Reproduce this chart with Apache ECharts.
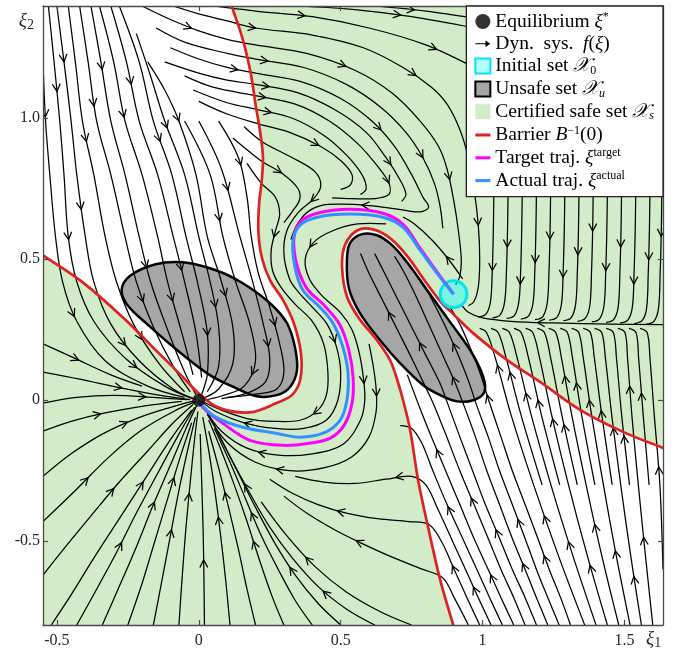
<!DOCTYPE html>
<html><head><meta charset="utf-8">
<script src="https://cdn.jsdelivr.net/npm/echarts@6.0.0/dist/echarts.min.js"></script>
<style>html,body{margin:0;padding:0;background:#fff;}#chart{width:681px;height:654px;}</style>
</head><body><div id="chart"></div>
<script>
// ---------------- data (data units) ----------------
const xTickValues = [-0.5, 0, 0.5, 1, 1.5];
const xTickLabels = ['-0.5', '0', '0.5', '1', '1.5'];
const yTickValues = [-0.5, 0, 0.5, 1];
const yTickLabels = ['-0.5', '0', '0.5', '1.0'];

const equilibrium = [0, 0];
const initialSetCenter = [0.898, 0.376];
const initialSetRadius = 0.047;

const barrierLeft = [[-0.549,0.514],[-0.409,0.418],[-0.268,0.294],[-0.162,0.188],[-0.056,0.082],[0.004,0.02],[0.074,-0.028],[0.18,-0.043],[0.272,-0.011],[0.33,0.02],[0.358,0.075],[0.36,0.167],[0.335,0.273],[0.297,0.355],[0.251,0.426],[0.222,0.507],[0.21,0.6],[0.213,0.7],[0.222,0.78],[0.226,0.865],[0.215,0.96],[0.201,1.043],[0.183,1.16],[0.155,1.28],[0.116,1.398]];
const barrierRight = [[1.638,-0.17],[1.497,-0.113],[1.345,-0.035],[1.204,0.064],[1.087,0.142],[0.967,0.238],[0.893,0.309],[0.851,0.351],[0.805,0.412],[0.734,0.512],[0.674,0.575],[0.614,0.606],[0.558,0.602],[0.515,0.55],[0.505,0.472],[0.522,0.368],[0.565,0.29],[0.63,0.21],[0.675,0.14],[0.7,0.07],[0.72,0.0],[0.745,-0.106],[0.773,-0.284],[0.805,-0.436],[0.851,-0.638],[0.897,-0.798]];

const unsafeLeft = [[-0.272,0.39],[-0.244,0.44],[-0.152,0.482],[-0.056,0.489],[0.06,0.461],[0.155,0.415],[0.251,0.344],[0.311,0.273],[0.339,0.188],[0.346,0.106],[0.321,0.046],[0.275,0.018],[0.205,0.014],[0.131,0.043],[0.039,0.089],[-0.067,0.17],[-0.173,0.262],[-0.251,0.337]];
const unsafeRight = [[0.522,0.496],[0.533,0.557],[0.575,0.589],[0.628,0.585],[0.681,0.55],[0.734,0.489],[0.805,0.39],[0.886,0.277],[0.957,0.177],[1.002,0.085],[1.006,0.028],[0.967,0.0],[0.911,-0.004],[0.851,0.018],[0.791,0.053],[0.71,0.131],[0.639,0.213],[0.568,0.309],[0.529,0.397]];

const targetTraj = [[0.898,0.376],[0.84,0.454],[0.78,0.539],[0.72,0.624],[0.649,0.663],[0.533,0.677],[0.417,0.663],[0.357,0.631],[0.335,0.574],[0.346,0.479],[0.381,0.397],[0.445,0.333],[0.498,0.266],[0.529,0.177],[0.544,0.078],[0.54,-0.011],[0.512,-0.089],[0.462,-0.135],[0.392,-0.152],[0.297,-0.16],[0.18,-0.142],[0.085,-0.082],[0.014,-0.025],[0,0]];
const actualTraj = [[0.898,0.376],[0.84,0.45],[0.78,0.532],[0.72,0.613],[0.649,0.649],[0.533,0.66],[0.417,0.649],[0.357,0.621],[0.332,0.567],[0.339,0.472],[0.367,0.39],[0.427,0.33],[0.473,0.273],[0.508,0.188],[0.526,0.096],[0.522,0.0],[0.498,-0.071],[0.438,-0.117],[0.357,-0.131],[0.272,-0.117],[0.155,-0.096],[0.06,-0.06],[0,-0.005]];

// streamlines of f(xi), each listed in flow direction
const flowTopLeft = [
 [[-0.549,1.2],[-0.54,0.99],[-0.525,0.8],[-0.505,0.58],[-0.48,0.42],[-0.43,0.28],[-0.33,0.14],[-0.18,0.05],[-0.05,0.01]],
 [[-0.53,1.398],[-0.51,1.2],[-0.49,0.99],[-0.475,0.8],[-0.46,0.58],[-0.43,0.42],[-0.37,0.28],[-0.26,0.15],[-0.12,0.05],[-0.02,0.005]],
 [[-0.5,1.398],[-0.475,1.2],[-0.45,0.99],[-0.43,0.8],[-0.4,0.58],[-0.37,0.42],[-0.31,0.27],[-0.21,0.14],[-0.09,0.04],[-0.01,0.003]],
 [[-0.46,1.398],[-0.435,1.2],[-0.41,0.99],[-0.37,0.8],[-0.33,0.58],[-0.29,0.42],[-0.23,0.27],[-0.14,0.13],[-0.05,0.03]],
 [[-0.42,1.398],[-0.39,1.2],[-0.36,0.99],[-0.31,0.8],[-0.26,0.58],[-0.22,0.42],[-0.16,0.26],[-0.09,0.12],[-0.03,0.03]],
 [[-0.38,1.398],[-0.345,1.2],[-0.31,0.99],[-0.26,0.8],[-0.21,0.58],[-0.17,0.42],[-0.11,0.25],[-0.05,0.1],[-0.01,0.02]],
 [[-0.35,1.398],[-0.3,1.2],[-0.26,0.99],[-0.2,0.8],[-0.145,0.58],[-0.11,0.42],[-0.06,0.24],[-0.02,0.09]],
 [[-0.31,1.398],[-0.255,1.2],[-0.21,0.99],[-0.145,0.8],[-0.09,0.58],[-0.05,0.42],[-0.01,0.24],[0.01,0.08]],
 [[-0.28,1.398],[-0.21,1.2],[-0.16,0.99],[-0.095,0.8],[-0.045,0.58],[-0.005,0.42],[0.03,0.24],[0.03,0.09],[0.01,0.02]],
 [[-0.22,1.3],[-0.17,1.15],[-0.12,0.99],[-0.05,0.8],[0.0,0.58],[0.04,0.42],[0.07,0.26],[0.07,0.12],[0.03,0.03]],
 [[-0.18,1.2],[-0.12,1.1],[-0.07,0.99],[-0.01,0.8],[0.03,0.58],[0.08,0.42],[0.12,0.26],[0.12,0.13],[0.07,0.04],[0.01,0.005]],
 [[-0.05,0.99],[0.04,0.8],[0.085,0.58],[0.13,0.42],[0.18,0.27],[0.2,0.14],[0.16,0.05],[0.08,0.015],[0.015,0.0]],
 [[0.0,0.99],[0.08,0.82],[0.145,0.58],[0.19,0.42],[0.225,0.28],[0.25,0.15],[0.235,0.065],[0.17,0.025],[0.08,0.006]],
 [[0.07,0.99],[0.14,0.86],[0.17,0.72],[0.185,0.58],[0.21,0.45],[0.25,0.33],[0.285,0.2],[0.3,0.1],[0.275,0.04],[0.2,0.022],[0.1,0.01]]
];
const flowTopRight = [
 [[0.35,1.398],[0.55,1.385],[0.75,1.36],[0.97,1.32]],
 [[0.62,1.398],[0.8,1.38],[0.97,1.355]],
 [[0.05,1.398],[0.12,1.39],[0.2,1.38],[0.4,1.36],[0.6,1.32],[0.8,1.26],[0.97,1.18]],
 [[-0.09,1.398],[0.0,1.37],[0.1,1.345],[0.2,1.32],[0.4,1.295],[0.58,1.25],[0.72,1.18],[0.82,1.11],[0.875,1.05],[0.92,0.96],[0.95,0.86],[0.97,0.75],[0.985,0.62],[0.99,0.5],[0.985,0.4],[0.97,0.35],[0.95,0.335]],
 [[-0.2,1.398],[-0.1,1.35],[0.0,1.31],[0.1,1.28],[0.2,1.26],[0.38,1.23],[0.55,1.17],[0.68,1.09],[0.78,0.99],[0.845,0.9],[0.875,0.82],[0.9,0.7],[0.915,0.6],[0.925,0.5],[0.92,0.44],[0.905,0.41]],
 [[-0.15,1.32],[-0.05,1.27],[0.1,1.23],[0.2,1.21],[0.37,1.18],[0.52,1.12],[0.64,1.04],[0.73,0.95],[0.79,0.86],[0.83,0.77],[0.85,0.69],[0.86,0.61]],
 [[-0.1,1.25],[0.0,1.21],[0.1,1.18],[0.2,1.16],[0.36,1.13],[0.5,1.07],[0.61,0.99],[0.69,0.9],[0.75,0.8],[0.79,0.72],[0.81,0.685],[0.78,0.668],[0.7,0.678],[0.6,0.69],[0.5,0.695],[0.43,0.69],[0.38,0.665],[0.345,0.62],[0.325,0.57]],
 [[-0.12,1.2],[0.0,1.16],[0.1,1.135],[0.2,1.12],[0.35,1.09],[0.48,1.03],[0.59,0.95],[0.66,0.86],[0.71,0.78],[0.73,0.73],[0.715,0.705]],
 [[-0.05,1.15],[0.05,1.11],[0.2,1.08],[0.34,1.05],[0.46,0.99],[0.56,0.91],[0.63,0.83],[0.67,0.77],[0.67,0.73],[0.62,0.715],[0.54,0.715],[0.47,0.718]],
 [[-0.02,1.1],[0.1,1.055],[0.21,1.03],[0.33,1.0],[0.44,0.94],[0.52,0.87],[0.575,0.8],[0.59,0.75],[0.57,0.73]],
 [[0.0,1.06],[0.1,1.015],[0.21,0.98],[0.32,0.95],[0.43,0.9],[0.5,0.85],[0.54,0.8],[0.535,0.765],[0.5,0.748]],
 [[0.12,0.93],[0.18,0.88],[0.226,0.845],[0.3,0.8],[0.35,0.75],[0.355,0.71],[0.33,0.67],[0.3,0.63]],
 [[0.93,0.43],[0.88,0.5],[0.82,0.57],[0.76,0.625],[0.72,0.65]],
 [[1.04,0.74],[1.038,0.6],[1.034,0.45],[1.028,0.35],[1.012,0.305],[0.985,0.295]],
 [[1.09,0.74],[1.088,0.6],[1.084,0.45],[1.078,0.35],[1.062,0.303],[1.035,0.292]],
 [[1.14,0.74],[1.138,0.6],[1.134,0.45],[1.128,0.35],[1.112,0.3],[1.085,0.29]],
 [[1.19,0.74],[1.188,0.6],[1.184,0.45],[1.178,0.345],[1.162,0.298],[1.135,0.288]],
 [[1.24,0.74],[1.238,0.6],[1.234,0.45],[1.228,0.345],[1.212,0.296],[1.185,0.286]],
 [[1.29,0.74],[1.288,0.6],[1.284,0.45],[1.278,0.34],[1.262,0.294],[1.235,0.284]],
 [[1.34,0.74],[1.338,0.6],[1.334,0.45],[1.328,0.34],[1.312,0.292],[1.285,0.282]],
 [[1.39,0.74],[1.388,0.6],[1.384,0.45],[1.378,0.335],[1.362,0.29],[1.335,0.28]],
 [[1.44,0.74],[1.438,0.6],[1.434,0.45],[1.428,0.335],[1.412,0.288],[1.385,0.278]],
 [[1.49,0.74],[1.488,0.6],[1.484,0.45],[1.478,0.33],[1.462,0.286],[1.435,0.276]],
 [[1.54,0.74],[1.538,0.6],[1.534,0.45],[1.528,0.33],[1.512,0.284],[1.485,0.274]],
 [[1.59,0.74],[1.588,0.6],[1.584,0.45],[1.578,0.325],[1.562,0.282],[1.535,0.272]],
 [[1.632,0.74],[1.63,0.6],[1.626,0.45],[1.62,0.325],[1.604,0.28],[1.577,0.27]],
 [[1.636,0.268],[1.45,0.27],[1.25,0.274],[1.1,0.28],[1.0,0.292],[0.95,0.312],[0.925,0.34]]
];
const flowMiddle = [
 [[0.17,0.84],[0.22,0.77],[0.27,0.72],[0.285,0.66],[0.27,0.6],[0.255,0.53],[0.26,0.46],[0.29,0.4],[0.34,0.34],[0.4,0.28],[0.44,0.2],[0.455,0.1],[0.45,0.02],[0.42,-0.035],[0.36,-0.07],[0.27,-0.075],[0.17,-0.065],[0.08,-0.035],[0.02,-0.008]],
 [[0.16,0.97],[0.226,0.915],[0.33,0.86],[0.41,0.81],[0.43,0.76],[0.405,0.715],[0.35,0.665],[0.31,0.6],[0.3,0.52],[0.32,0.43],[0.35,0.385],[0.4,0.33],[0.452,0.27],[0.485,0.19],[0.5,0.1],[0.49,0.0],[0.45,-0.07],[0.37,-0.1],[0.27,-0.1],[0.16,-0.08],[0.06,-0.04],[0.01,-0.004]],
 [[0.66,0.625],[0.56,0.625],[0.47,0.6],[0.405,0.56],[0.375,0.5],[0.39,0.43],[0.435,0.37],[0.5,0.31],[0.54,0.25],[0.565,0.17],[0.58,0.08],[0.585,0.0],[0.57,-0.07],[0.51,-0.155],[0.4,-0.19],[0.28,-0.195],[0.17,-0.17],[0.08,-0.11],[0.02,-0.03]],
 [[0.6,0.2],[0.615,0.12],[0.625,0.04],[0.625,-0.04],[0.6,-0.13],[0.54,-0.2],[0.44,-0.24],[0.32,-0.25],[0.2,-0.22],[0.1,-0.15],[0.03,-0.05]]
];
const flowBottomLeft = [
 [[0.75,-0.797],[0.64,-0.75],[0.52,-0.68],[0.41,-0.59],[0.31,-0.48],[0.22,-0.36]],
 [[0.62,-0.797],[0.52,-0.74],[0.42,-0.66],[0.33,-0.56],[0.25,-0.45],[0.18,-0.33],[0.11,-0.2],[0.05,-0.08]],
 [[0.5,-0.797],[0.42,-0.72],[0.34,-0.62],[0.27,-0.51],[0.2,-0.38],[0.14,-0.26],[0.08,-0.14],[0.03,-0.04]],
 [[0.4,-0.797],[0.34,-0.71],[0.28,-0.6],[0.22,-0.48],[0.165,-0.35],[0.11,-0.22],[0.055,-0.1]],
 [[0.3,-0.797],[0.26,-0.7],[0.215,-0.57],[0.17,-0.43],[0.125,-0.3],[0.08,-0.18],[0.035,-0.07]],
 [[0.2,-0.797],[0.17,-0.67],[0.14,-0.53],[0.105,-0.38],[0.07,-0.24],[0.035,-0.11]],
 [[0.11,-0.797],[0.095,-0.64],[0.077,-0.48],[0.058,-0.33],[0.037,-0.19],[0.014,-0.06]],
 [[0.02,-0.797],[0.018,-0.62],[0.015,-0.45],[0.01,-0.28],[0.005,-0.12]],
 [[-0.07,-0.797],[-0.058,-0.62],[-0.045,-0.45],[-0.03,-0.29],[-0.015,-0.14],[-0.003,-0.04]],
 [[-0.16,-0.797],[-0.13,-0.64],[-0.1,-0.48],[-0.07,-0.32],[-0.04,-0.18],[-0.012,-0.06]],
 [[-0.25,-0.797],[-0.2,-0.65],[-0.155,-0.5],[-0.11,-0.35],[-0.065,-0.2],[-0.025,-0.08]],
 [[-0.34,-0.797],[-0.28,-0.66],[-0.22,-0.52],[-0.16,-0.37],[-0.1,-0.23],[-0.045,-0.1],[-0.008,-0.02]],
 [[-0.43,-0.797],[-0.36,-0.67],[-0.29,-0.54],[-0.22,-0.4],[-0.14,-0.25],[-0.07,-0.12],[-0.015,-0.025]],
 [[-0.52,-0.797],[-0.45,-0.69],[-0.37,-0.56],[-0.28,-0.42],[-0.19,-0.28],[-0.1,-0.14],[-0.025,-0.035]],
 [[-0.549,-0.62],[-0.47,-0.52],[-0.38,-0.41],[-0.28,-0.29],[-0.18,-0.18],[-0.09,-0.08],[-0.02,-0.015]],
 [[-0.549,-0.43],[-0.435,-0.32],[-0.315,-0.2],[-0.2,-0.105],[-0.08,-0.035],[-0.01,-0.005]],
 [[-0.549,-0.27],[-0.45,-0.19],[-0.34,-0.12],[-0.22,-0.065],[-0.1,-0.025],[-0.02,-0.003]],
 [[-0.549,-0.11],[-0.45,-0.075],[-0.33,-0.045],[-0.19,-0.02],[-0.06,-0.004]],
 [[-0.549,-0.01],[-0.43,0.01],[-0.3,0.017],[-0.16,0.01],[-0.04,0.002]],
 [[-0.549,0.1],[-0.42,0.075],[-0.28,0.045],[-0.14,0.018],[-0.03,0.002]],
 [[-0.549,0.2],[-0.44,0.15],[-0.31,0.09],[-0.2,0.05]]
];
const flowBottomRight = [
 [[0.95,-0.797],[0.9,-0.7],[0.86,-0.63],[0.79,-0.6],[0.69,-0.56],[0.58,-0.51],[0.48,-0.46],[0.38,-0.4],[0.3,-0.34]],
 [[0.99,-0.797],[0.945,-0.7],[0.9,-0.6],[0.855,-0.5],[0.81,-0.44],[0.74,-0.43],[0.63,-0.42],[0.52,-0.4],[0.42,-0.37],[0.33,-0.33],[0.25,-0.28]],
 [[1.03,-0.797],[0.985,-0.7],[0.94,-0.6],[0.89,-0.49],[0.84,-0.38],[0.8,-0.3],[0.75,-0.27],[0.66,-0.28],[0.55,-0.295],[0.44,-0.29],[0.34,-0.27]],
 [[1.07,-0.797],[1.025,-0.7],[0.98,-0.6],[0.93,-0.49],[0.875,-0.37],[0.825,-0.25],[0.785,-0.15],[0.75,-0.1],[0.71,-0.09]],
 [[1.11,-0.797],[1.065,-0.7],[1.02,-0.6],[0.97,-0.49],[0.92,-0.37],[0.87,-0.25],[0.82,-0.13],[0.78,-0.03],[0.75,0.05],[0.735,0.09]],
 [[1.15,-0.797],[1.11,-0.7],[1.065,-0.6],[1.02,-0.49],[0.97,-0.37],[0.92,-0.25],[0.87,-0.12],[0.83,-0.02],[0.8,0.045],[0.75,0.15],[0.7,0.25],[0.65,0.35],[0.6,0.45],[0.57,0.52]],
 [[1.19,-0.797],[1.15,-0.7],[1.105,-0.6],[1.06,-0.49],[1.01,-0.37],[0.965,-0.25],[0.92,-0.13],[0.88,-0.02],[0.85,0.06],[0.8,0.16],[0.75,0.26],[0.7,0.36],[0.655,0.45],[0.62,0.52]],
 [[1.23,-0.797],[1.19,-0.7],[1.15,-0.6],[1.105,-0.49],[1.06,-0.37],[1.015,-0.25],[0.975,-0.13],[0.935,-0.02],[0.9,0.07],[0.855,0.17],[0.81,0.27],[0.765,0.37],[0.72,0.46],[0.69,0.51]],
 [[1.27,-0.797],[1.23,-0.7],[1.19,-0.6],[1.15,-0.49],[1.105,-0.37],[1.06,-0.25],[1.02,-0.13],[0.98,-0.02],[0.95,0.07],[0.91,0.17],[0.865,0.27],[0.82,0.36],[0.78,0.43]],
 [[1.31,-0.797],[1.275,-0.7],[1.235,-0.6],[1.195,-0.49],[1.15,-0.37],[1.105,-0.25],[1.065,-0.13],[1.025,-0.01],[0.99,0.1],[0.955,0.19],[0.92,0.27],[0.885,0.33]],
 [[1.36,-0.797],[1.267,-0.55],[1.18,-0.3],[1.1,-0.05],[1.045,0.15],[1.014,0.24],[0.99,0.255]],
 [[1.4,-0.797],[1.318,-0.55],[1.241,-0.3],[1.171,-0.05],[1.122,0.15],[1.095,0.24],[1.07,0.255]],
 [[1.44,-0.797],[1.369,-0.55],[1.303,-0.3],[1.243,-0.05],[1.201,0.15],[1.177,0.24],[1.152,0.255]],
 [[1.48,-0.797],[1.42,-0.55],[1.365,-0.3],[1.314,-0.05],[1.278,0.15],[1.258,0.24],[1.233,0.255]],
 [[1.52,-0.797],[1.471,-0.55],[1.426,-0.3],[1.384,-0.05],[1.355,0.15],[1.339,0.24],[1.314,0.255]],
 [[1.56,-0.797],[1.522,-0.55],[1.487,-0.3],[1.455,-0.05],[1.433,0.15],[1.42,0.24],[1.395,0.255]],
 [[1.6,-0.797],[1.574,-0.55],[1.549,-0.3],[1.526,-0.05],[1.511,0.15],[1.502,0.24],[1.477,0.255]],
 [[1.636,-0.6],[1.625,-0.3],[1.605,-0.05],[1.59,0.15],[1.58,0.24],[1.555,0.255]],
 [[1.21,-0.3],[1.135,-0.05],[1.083,0.15],[1.055,0.24],[1.03,0.255]],
 [[1.272,-0.3],[1.207,-0.05],[1.162,0.15],[1.136,0.24],[1.111,0.255]],
 [[1.334,-0.3],[1.279,-0.05],[1.24,0.15],[1.218,0.24],[1.193,0.255]],
 [[1.396,-0.3],[1.349,-0.05],[1.317,0.15],[1.299,0.24],[1.274,0.255]],
 [[1.457,-0.3],[1.42,-0.05],[1.394,0.15],[1.38,0.24],[1.355,0.255]],
 [[1.518,-0.3],[1.49,-0.05],[1.472,0.15],[1.461,0.24],[1.436,0.255]],
 [[1.587,-0.3],[1.566,-0.05],[1.55,0.15],[1.541,0.24],[1.516,0.255]]
];

// ---------------- chart ----------------
const streamlines = [].concat(flowTopLeft, flowTopRight, flowMiddle, flowBottomLeft, flowBottomRight);
const SMOOTH = 0.35;
const SERIF = "'Liberation Serif','DejaVu Serif',serif";
const AX = '#4a4a4a';

function extendEnds(pts) {
  const n = pts.length, a = pts[0], b = pts[1], y = pts[n - 1], z = pts[n - 2];
  return [[2 * a[0] - b[0], 2 * a[1] - b[1]]].concat(pts, [[2 * y[0] - z[0], 2 * y[1] - z[1]]]);
}

// sample the same bezier path that zrender draws for a smoothed polyline (for arrow placement)
function sampleSmooth(pts, s) {
  const n = pts.length, cp0 = [], cp1 = [];
  for (let i = 0; i < n; i++) {
    if (i === 0 || i === n - 1) { cp0[i] = pts[i]; cp1[i] = pts[i]; continue; }
    const pv = pts[i - 1], nx = pts[i + 1], p = pts[i];
    const vx = (nx[0] - pv[0]) * s, vy = (nx[1] - pv[1]) * s;
    let d0 = Math.hypot(p[0] - pv[0], p[1] - pv[1]), d1 = Math.hypot(p[0] - nx[0], p[1] - nx[1]);
    const sum = d0 + d1; if (sum) { d0 /= sum; d1 /= sum; }
    cp0[i] = [p[0] - vx * d0, p[1] - vy * d0]; cp1[i] = [p[0] + vx * d1, p[1] + vy * d1];
  }
  const out = [pts[0]];
  for (let i = 0; i < n - 1; i++) {
    const P0 = pts[i], C1 = cp1[i], C2 = cp0[i + 1], P1 = pts[i + 1];
    for (let k = 1; k <= 16; k++) {
      const t = k / 16, u = 1 - t;
      out.push([u*u*u*P0[0] + 3*u*u*t*C1[0] + 3*u*t*t*C2[0] + t*t*t*P1[0],
                u*u*u*P0[1] + 3*u*u*t*C1[1] + 3*u*t*t*C2[1] + t*t*t*P1[1]]);
    }
  }
  return out;
}

function renderStream(params, api) {
  const idx = api.value(2);
  const pts = streamlines[idx].map(p => api.coord(p));
  const style = { stroke: '#000', lineWidth: 1.25, fill: null };
  const children = [{ type: 'polyline', shape: { points: pts, smooth: SMOOTH }, style: style }];
  const smp = sampleSmooth(pts, SMOOTH);
  const cum = [0];
  for (let k = 1; k < smp.length; k++) cum.push(cum[k - 1] + Math.hypot(smp[k][0] - smp[k - 1][0], smp[k][1] - smp[k - 1][1]));
  const L = cum[cum.length - 1];
  if (L > 50) {
    const n = Math.max(1, Math.round(L / 175));
    const shift = (((idx * 0.6180339) % 1) - 0.5) * 0.45;
    for (let a = 0; a < n; a++) {
      let target = L * (a + 0.5 + shift) / n;
      target = Math.min(Math.max(target, 22), L - 30);
      let k = 1; while (k < cum.length - 1 && cum[k] < target) k++;
      const p = smp[k], pr = smp[Math.max(0, k - 2)], nx = smp[Math.min(smp.length - 1, k + 2)];
      let dx = nx[0] - pr[0], dy = nx[1] - pr[1]; const dl = Math.hypot(dx, dy) || 1; dx /= dl; dy /= dl;
      const s = 8.5, ca = Math.cos(0.48), sa = Math.sin(0.48), bx = -dx, by = -dy;
      const a1 = [p[0] + s * (bx * ca - by * sa), p[1] + s * (bx * sa + by * ca)];
      const a2 = [p[0] + s * (bx * ca + by * sa), p[1] + s * (-bx * sa + by * ca)];
      children.push({ type: 'polyline', shape: { points: [a1, p, a2] }, style: style });
    }
  }
  return { type: 'group', children: children };
}

function labelFor(values, labels) {
  return v => { const i = values.findIndex(t => Math.abs(t - v) < 1e-9); return i >= 0 ? labels[i] : ''; };
}

const legendLabels = {
  'Equilibrium': '{t|Equilibrium }{m|ξ}{sup|*}',
  'Dyn': '{t|Dyn.  sys.  }{m|f}{t|(}{m|ξ}{t|)}',
  'Initial': '{t|Initial set }{x|𝒳}{sub|0}',
  'Unsafe': '{t|Unsafe set }{x|𝒳}{subi|u}',
  'Safe': '{t|Certified safe set }{x|𝒳}{subi|s}',
  'Barrier': '{t|Barrier }{m|B}{sup|−1}{t|(0)}',
  'Target': '{t|Target traj. }{m|ξ}{sup|target}',
  'Actual': '{t|Actual traj. }{m|ξ}{sup|actual}'
};

const axisLineCommon = { show: true, onZero: false, lineStyle: { color: AX, width: 1.3 } };
const tickX = { show: true, inside: true, length: 5, customValues: xTickValues, lineStyle: { color: AX, width: 1.2 } };
const tickY = { show: true, inside: true, length: 5, customValues: yTickValues, lineStyle: { color: AX, width: 1.2 } };
const xMin = -0.549, xMax = 1.636, yMin = -0.797, yMax = 1.398;
const FS = 19.5;

const option = {
  animation: false,
  backgroundColor: '#fff',
  grid: { left: 43, right: 18, top: 6, bottom: 29, show: false },
  xAxis: [
    { type: 'value', min: xMin, max: xMax, position: 'bottom', z: 10,
      axisLine: axisLineCommon, axisTick: tickX, splitLine: { show: false },
      axisLabel: { customValues: xTickValues, formatter: labelFor(xTickValues, xTickLabels), margin: 8,
        fontFamily: SERIF, fontSize: 16, color: '#262626' },
      name: '{m|ξ}{s|1}', nameLocation: 'end', nameGap: -17,
      nameTextStyle: { align: 'left', verticalAlign: 'top', padding: [3, 0, 0, 0],
        rich: { m: { fontFamily: SERIF, fontSize: 19, fontStyle: 'italic', color: '#262626', lineHeight: 22, verticalAlign: 'middle' },
                s: { fontFamily: SERIF, fontSize: 14, color: '#262626', lineHeight: 14, verticalAlign: 'bottom' } } } },
    { type: 'value', min: xMin, max: xMax, position: 'top', z: 10,
      axisLine: axisLineCommon, axisTick: tickX, splitLine: { show: false }, axisLabel: { show: false } }
  ],
  yAxis: [
    { type: 'value', min: yMin, max: yMax, position: 'left', z: 10,
      axisLine: axisLineCommon, axisTick: tickY, splitLine: { show: false },
      axisLabel: { customValues: yTickValues, formatter: labelFor(yTickValues, yTickLabels), margin: 3,
        fontFamily: SERIF, fontSize: 16, color: '#262626' },
      name: '{m|ξ}{s|2}', nameLocation: 'end', nameGap: -4,
      nameTextStyle: { align: 'right', verticalAlign: 'top', padding: [0, 9, 0, 0],
        rich: { m: { fontFamily: SERIF, fontSize: 19, fontStyle: 'italic', color: '#262626', lineHeight: 22, verticalAlign: 'middle' },
                s: { fontFamily: SERIF, fontSize: 14, color: '#262626', lineHeight: 14, verticalAlign: 'bottom' } } } },
    { type: 'value', min: yMin, max: yMax, position: 'right', z: 10,
      axisLine: axisLineCommon, axisTick: tickY, splitLine: { show: false }, axisLabel: { show: false } }
  ],
  legend: {
    right: 18, top: 6, orient: 'vertical', z: 30, selectedMode: false,
    backgroundColor: '#fff', borderColor: '#222', borderWidth: 1.3, borderRadius: 0,
    padding: [5, 9, 6, 8], itemGap: 2.3, itemWidth: 15, itemHeight: 15,
    formatter: n => legendLabels[n],
    textStyle: { fontFamily: SERIF, fontSize: FS, color: '#000',
      rich: {
        t: { fontFamily: SERIF, fontSize: FS, lineHeight: 21, verticalAlign: 'middle' },
        m: { fontFamily: SERIF, fontSize: FS, fontStyle: 'italic', lineHeight: 21, verticalAlign: 'middle' },
        x: { fontFamily: SERIF, fontSize: FS, fontStyle: 'italic', lineHeight: 21, verticalAlign: 'middle' },
        sup: { fontFamily: SERIF, fontSize: 12, lineHeight: 13, verticalAlign: 'top' },
        sub: { fontFamily: SERIF, fontSize: 12, lineHeight: 10, verticalAlign: 'bottom' },
        subi: { fontFamily: SERIF, fontSize: 12, fontStyle: 'italic', lineHeight: 10, verticalAlign: 'bottom' }
      } },
    data: [
      { name: 'Equilibrium', icon: 'circle', itemStyle: { color: '#000' } },
      { name: 'Dyn', icon: 'path://M0,4.5 L9.5,4.5 L9.5,2 L14,5 L9.5,8 L9.5,5.5 L0,5.5 Z', itemStyle: { color: '#000' } },
      { name: 'Initial', icon: 'rect', itemStyle: { color: '#b2ffff', borderColor: '#00e6f0', borderWidth: 2 } },
      { name: 'Unsafe', icon: 'rect', itemStyle: { color: '#a6a6a6', borderColor: '#000', borderWidth: 2 } },
      { name: 'Safe', icon: 'rect', itemStyle: { color: '#d3ecc8' } },
      { name: 'Barrier', icon: 'path://M0,0 L15,0 L15,3 L0,3 Z', itemStyle: { color: '#dc2222' } },
      { name: 'Target', icon: 'path://M0,0 L15,0 L15,3 L0,3 Z', itemStyle: { color: '#ff00ff' } },
      { name: 'Actual', icon: 'path://M0,0 L15,0 L15,3 L0,3 Z', itemStyle: { color: '#3391ff' } }
    ]
  },
  series: [
    { name: 'Safe', type: 'custom', z: 1, silent: true, clip: true, data: [[0, 0]],
      renderItem: (params) => { const c = params.coordSys;
        return { type: 'rect', shape: { x: c.x, y: c.y, width: c.width, height: c.height }, style: { fill: '#d3ecc8' } }; } },
    { name: 'notSafe', type: 'custom', z: 2, silent: true, clip: true, data: [[0, 0, 0], [0, 0, 1]],
      renderItem: (params, api) => {
        const c = params.coordSys, k = api.value(2);
        const pts = extendEnds((k === 0 ? barrierLeft : barrierRight).map(p => api.coord(p)));
        pts.push(k === 0 ? [c.x - 400, c.y - 400] : [c.x + c.width + 400, c.y + c.height + 400]);
        return { type: 'polygon', shape: { points: pts, smooth: SMOOTH }, style: { fill: '#fff' } };
      } },
    { name: 'Unsafe', type: 'custom', z: 3, silent: true, clip: true, data: [[0, 0, 0], [0, 0, 1]],
      renderItem: (params, api) => {
        const pts = (api.value(2) === 0 ? unsafeLeft : unsafeRight).map(p => api.coord(p));
        return { type: 'polygon', shape: { points: pts, smooth: SMOOTH }, style: { fill: '#a6a6a6', stroke: '#000', lineWidth: 2.5 } };
      } },
    { name: 'Dyn', type: 'custom', z: 4, silent: true, clip: true,
      data: streamlines.map((l, i) => [l[0][0], l[0][1], i]), renderItem: renderStream },
    { name: 'Barrier', type: 'custom', z: 5, silent: true, clip: true, data: [[0, 0, 0], [0, 0, 1]],
      renderItem: (params, api) => {
        const pts = extendEnds((api.value(2) === 0 ? barrierLeft : barrierRight).map(p => api.coord(p)));
        return { type: 'polyline', shape: { points: pts, smooth: SMOOTH }, style: { stroke: '#dc2222', lineWidth: 2.7, fill: null } };
      } },
    { name: 'Initial', type: 'custom', z: 6, silent: true, clip: true, data: [[initialSetCenter[0], initialSetCenter[1]]],
      renderItem: (params, api) => {
        const c = api.coord(initialSetCenter), r = api.size([initialSetRadius, 0])[0];
        return { type: 'circle', shape: { cx: c[0], cy: c[1], r: r }, style: { fill: 'rgba(0,255,255,0.42)', stroke: '#00e6f0', lineWidth: 3 } };
      } },
    { name: 'Target', type: 'custom', z: 7, silent: true, clip: true, data: [targetTraj[0]],
      renderItem: (params, api) => ({ type: 'polyline', shape: { points: targetTraj.map(p => api.coord(p)), smooth: SMOOTH },
        style: { stroke: '#ff00ff', lineWidth: 3, fill: null } }) },
    { name: 'Actual', type: 'custom', z: 8, silent: true, clip: true, data: [actualTraj[0]],
      renderItem: (params, api) => ({ type: 'polyline', shape: { points: actualTraj.map(p => api.coord(p)), smooth: SMOOTH },
        style: { stroke: '#3391ff', lineWidth: 3, fill: null } }) },
    { name: 'Equilibrium', type: 'scatter', z: 9, silent: true, symbol: 'circle', symbolSize: 13,
      itemStyle: { color: '#000' }, data: [equilibrium] }
  ]
};

const chart = echarts.init(document.getElementById('chart'), null, { renderer: 'canvas' });
chart.setOption(option);
</script>
</body></html>
